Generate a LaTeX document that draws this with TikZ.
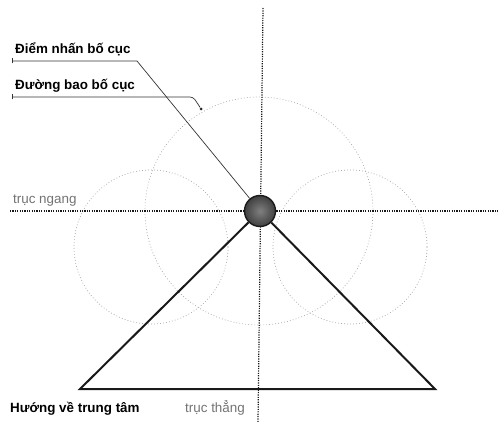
\documentclass[tikz,border=0pt]{standalone}
\usepackage{fontspec}
\setmainfont{Liberation Sans}
\usetikzlibrary{arrows.meta}

\begin{document}
\begin{tikzpicture}[x=1pt,y=-1pt]
	\tikzset{axisline/.style={black!90, line width=1.2pt, dash pattern=on 1.2pt off 1.2pt},
		guide/.style={black!35, line width=0.7pt, dash pattern=on 0.8pt off 2.2pt},
		focusball/.style={circle, draw=black!90, line width=1.4pt, inner color=black!50, outer color=black!75, minimum size=31, inner sep=0},
		rimdot/.style={circle, fill=black!85, minimum size=3, inner sep=0},
		tri/.style={black!90, line width=2pt, line join=miter},
		leader/.style={black!80, line width=0.7pt, {Bar[width=5pt,line width=0.7pt]}-},
		caption/.style={font=\fontsize{13.4}{16}\selectfont\bfseries, anchor=base west, inner sep=0},
		axisname/.style={font=\fontsize{13.4}{16}\selectfont, text=black!55, anchor=base west, inner sep=0}}
	\useasboundingbox (0,0) rectangle (498,422);
	% duong bao
	\draw[guide] (259,211) circle (114);
	\draw[guide] (151,247) circle (77);
	\draw[guide] (350,247) circle (77);
	% truc
	\coordinate (vtop) at (263,8);
	\coordinate (vbot) at (258,422);
	\coordinate (hleft) at (10,211);
	\coordinate (hright) at (498,211);
	\draw[axisline] (vtop) -- (vbot);
	\draw[axisline] (hleft) -- (hright);
	\node[focusball] (focus) at (260,211) {};
	% tam giac
	\coordinate (bl) at (80,389);
	\coordinate (br) at (435,389);
	\draw[tri] (focus) -- (bl) -- (br) -- (focus);
	% chu thich
	\node[caption] (accent) at (15,54) {Điểm nhấn bố cục};
	\node[caption] (outline) at (15,90) {Đường bao bố cục};
	\node[caption] (center) at (10,412) {Hướng về trung tâm};
	\node[axisname] (hname) at (13,204) {trục ngang};
	\node[axisname] (vname) at (185,412) {trục thẳng};
	\coordinate (tick1) at (12,61);
	\coordinate (bend1) at (137,61);
	\coordinate (tick2) at (12,97);
	\coordinate (bend2) at (193,97);
	\node[rimdot] (rim) at (201,109) {};
	\draw[leader] (tick1) -- (bend1) -- (focus);
	\draw[leader, rounded corners=3pt] (tick2) -- (bend2) -- (198,104) -- (rim);
\end{tikzpicture}
\end{document}
